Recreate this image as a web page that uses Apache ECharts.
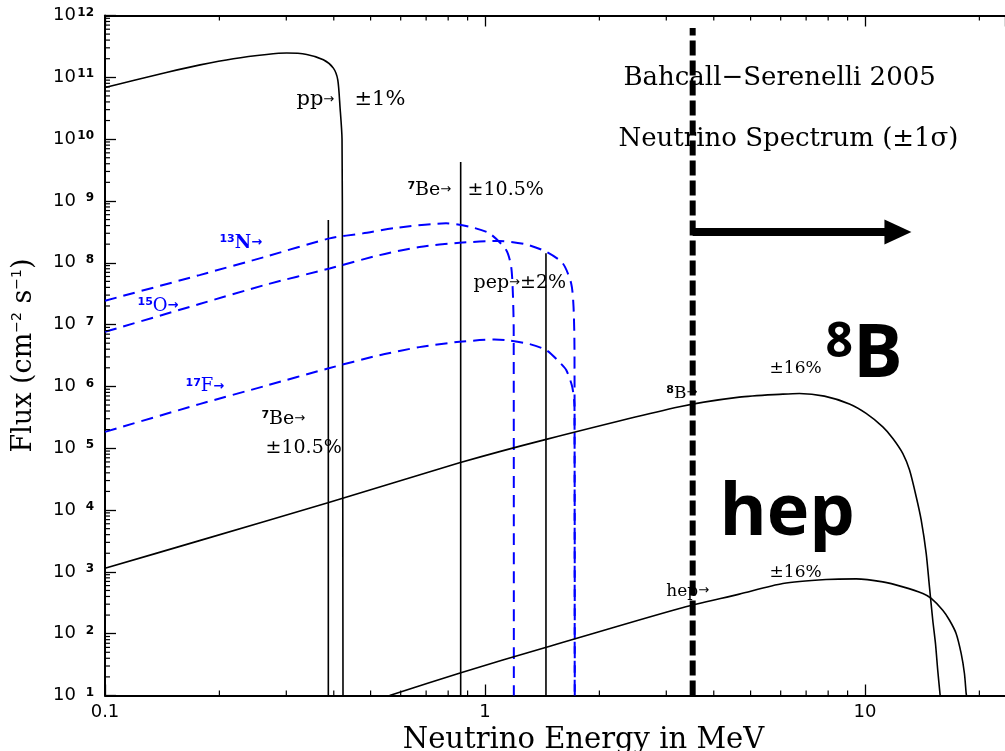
<!DOCTYPE html>
<html><head><meta charset="utf-8">
<script src="https://cdn.jsdelivr.net/npm/echarts@6/dist/echarts.min.js"></script>
<style>html,body{margin:0;padding:0;background:#fff}#c{width:1005px;height:751px}</style>
</head><body><div id="c"></div>
<script>
// ---------------- data ----------------
const X_MIN = 0.1, X_MAX = 23.36, Y_MIN = 10, Y_MAX = 1e12;
const xTickValues = [0.1, 1, 10];
const xTickLabels = ['0.1', '1', '10'];
const yTickExponents = [1,2,3,4,5,6,7,8,9,10,11,12];

// pp spectrum (solid)
const ppE = [0.1, 0.1187, 0.145, 0.178, 0.2177, 0.2664, 0.3008, 0.3396, 0.3755, 0.399, 0.4098, 0.4153, 0.4205, 0.4215, 0.423];
const ppF = [6.84e10, 8.87e10, 1.2e11, 1.59e11, 2.0e11, 2.34e11, 2.47e11, 2.34e11, 1.92e11, 1.41e11, 9.1e10, 3.37e10, 1e10, 1e8, 10];

// line sources: 7Be (384 keV), 7Be (862 keV), pep
const lineE   = [0.387, 0.863, 1.447];
const lineTop = [4.9e8, 4.25e9, 1.43e8];

// 13N (blue dashed)
const n13E = [0.1, 0.1773, 0.263, 0.39, 0.477, 0.584, 0.79, 0.91, 1.027, 1.137, 1.172, 1.184, 1.19, 1.191];
const n13F = [2.43e7, 6.32e7, 1.24e8, 2.48e8, 2.99e8, 3.68e8, 4.34e8, 3.82e8, 2.99e8, 1.61e8, 8.6e7, 3.2e7, 8.1e6, 10];
// 15O (blue dashed)
const o15E = [0.1, 0.1773, 0.263, 0.39, 0.528, 0.672, 0.857, 1.092, 1.27, 1.449, 1.602, 1.686, 1.71, 1.72, 1.722];
const o15F = [7.64e6, 2.15e7, 4.36e7, 8.1e7, 1.33e8, 1.8e8, 2.11e8, 2.25e8, 2.01e8, 1.51e8, 9.8e7, 4.64e7, 1.94e7, 3.9e6, 10];
// 17F (blue dashed)
const f17E = [0.1, 0.1773, 0.263, 0.386, 0.528, 0.672, 0.857, 1.059, 1.137, 1.31, 1.449, 1.57, 1.636, 1.697, 1.72, 1.723];
const f17F = [1.84e5, 5.17e5, 1.01e6, 1.95e6, 3.2e6, 4.32e6, 5.27e6, 5.72e6, 5.6e6, 4.84e6, 3.87e6, 2.47e6, 1.84e6, 9.8e5, 4.68e5, 10];
// 8B (solid)
const b8E = [0.1, 0.1773, 0.386, 0.857, 1.449, 3.25, 4.67, 6.08, 6.72, 7.82, 9.1, 10.07, 11.14, 11.84, 12.58, 13.1, 13.64, 14.06, 14.49, 14.78, 15.08, 15.33, 15.54, 15.77];
const b8F = [1.14e3, 3.2e3, 1.31e4, 5.8e4, 1.39e5, 4.68e5, 6.7e5, 7.5e5, 7.7e5, 6.97e5, 5.2e5, 3.66e5, 2.22e5, 1.44e5, 8.2e4, 4.43e4, 1.64e4, 6.85e3, 1.99e3, 571, 165, 69, 25.6, 10];
// hep (solid)
const hepE = [0.561, 0.86, 1.443, 3.25, 4.67, 6.08, 7.9, 9.48, 11.14, 12.58, 14.2, 14.94, 16.02, 16.69, 17.37, 17.91, 18.27, 18.46, 18.5];
const hepF = [10, 23.2, 59.8, 256, 436, 649, 753, 771, 689, 572, 447, 372, 240, 165, 101, 47.9, 22.7, 10.8, 10];

// detection threshold (thick dashed) and arrow
const thresholdE = 3.52;
const thresholdTop = 6.3e11;
const arrowE = [3.52, 12.21];
const arrowF = 3.14e8;

// text annotations: text, anchor energy, anchor flux
const noteTexts = [
  '{tl|pp}{ar|→}', '{tl|±1%}',
  '{su|7}{t|Be}{ar|→}', '{t|±10.5%}',
  '{bsu|13}{bn|N}{bar|→}', '{bsu|15}{bt|O}{bar|→}', '{bsu|17}{bt|F}{bar|→}',
  '{su|7}{t|Be}{ar|→}', '{t|±10.5%}',
  '{t|pep}{ar|→}{t|±2%}',
  '{su|8}{ts|B}{ar|→}', '{ts|±16%}',
  '{ts|hep}{ar|→}', '{ts|±16%}',
  '{h|Bahcall−Serenelli 2005}', '{h|Neutrino Spectrum (±1σ)}',
  '{b8s|8}{b8|B}', '{big|hep}'
];
const noteE = [0.319, 0.4535, 0.625, 0.9, 0.2, 0.1218, 0.1629, 0.258, 0.2645, 0.933, 3.0, 5.61, 3.0, 5.61, 5.96, 6.29, 7.87, 4.14];
const noteF = [4.3e10, 4.3e10, 1.5e9, 1.5e9, 2.08e8, 1.99e7, 1.01e6, 2.96e5, 1.0e5, 4.7e7, 7.8e5, 1.94e6, 488, 988, 9.75e10, 1.0e10, 3.09e6, 8.6e3];
const noteCentered = [false,false,false,false,false,false,false,false,false,false,false,false,false,false,true,true,false,false];

// ---------------- helpers ----------------
const zip = (a, b) => a.map((v, i) => [v, b[i]]);
function minorTicks(lo, hi) {
  const out = [];
  for (let k = Math.floor(Math.log10(lo)); k <= Math.ceil(Math.log10(hi)); k++) {
    for (let m = 2; m <= 9; m++) {
      const v = m * Math.pow(10, k);
      if (v > lo * 1.0001 && v < hi * 0.9999) out.push(v);
    }
  }
  return out;
}
const xMinor = minorTicks(X_MIN, X_MAX);
const yMinor = minorTicks(Y_MIN, Y_MAX);

const BLUE = '#0000ff';
const SERIF = 'DejaVu Serif';
const SANS = 'DejaVu Sans';

const axisCommon = {
  type: 'log', logBase: 10, interval: 1,
  axisLine: { show: true, lineStyle: { color: '#000', width: 2 } },
  axisTick: { show: true, inside: true, length: 11, lineStyle: { color: '#000', width: 1.3 } },
  splitLine: { show: false },
  minorTick: { show: false }
};

const series = [];
function solid(name, E, F, smooth) {
  series.push({ name, type: 'line', data: zip(E, F), showSymbol: false, symbol: 'none', smooth: smooth || false,
    lineStyle: { color: '#000', width: 1.6 }, z: 3, silent: true, clip: true });
}
function dashed(name, E, F) {
  series.push({ name, type: 'line', data: zip(E, F), showSymbol: false, symbol: 'none', smooth: 0.25,
    lineStyle: { color: BLUE, width: 2, type: [12, 7] }, z: 3, silent: true, clip: true });
}
solid('pp', ppE, ppF, 0.25);
lineE.forEach((e, i) => solid('line' + i, [e, e], [Y_MIN, lineTop[i]]));
dashed('13N', n13E, n13F);
dashed('15O', o15E, o15F);
dashed('17F', f17E, f17F);
solid('8B', b8E, b8F, 0.25);
solid('hep', hepE, hepF, 0.25);

// annotations
series.push({
  name: 'notes', type: 'scatter', symbolSize: 0, silent: true, z: 5,
  itemStyle: { opacity: 1 },
  data: noteTexts.map((t, i) => ({
    value: [noteE[i], noteF[i]],
    label: { show: true, position: [0, 0], formatter: t,
      align: noteCentered[i] ? 'center' : 'left', verticalAlign: 'middle' }
  })),
  label: {
    show: true, color: '#000', opacity: 1,
    rich: {
      t:  { fontFamily: SERIF, fontSize: 19, color: '#000' },
      tl: { fontFamily: SERIF, fontSize: 21, color: '#000' },
      ts: { fontFamily: SERIF, fontSize: 17, color: '#000' },
      ar: { fontFamily: SANS, fontSize: 13, color: '#000' },
      su: { fontFamily: SANS, fontSize: 11, fontWeight: 'bold', color: '#000', verticalAlign: 'top' },
      bsu: { fontFamily: SANS, fontSize: 11, fontWeight: 'bold', color: BLUE, verticalAlign: 'top' },
      bn: { fontFamily: SERIF, fontSize: 18, fontWeight: 'bold', color: BLUE },
      bt: { fontFamily: SERIF, fontSize: 18, color: BLUE },
      bar: { fontFamily: SANS, fontSize: 13, fontWeight: 'bold', color: BLUE },
      h:  { fontFamily: SERIF, fontSize: 26, color: '#000' },
      b8s: { fontFamily: 'Open Sans', fontSize: 48, fontWeight: 'bold', color: '#000', verticalAlign: 'top' },
      b8:  { fontFamily: 'Open Sans', fontSize: 74, fontWeight: 'bold', color: '#000' },
      big: { fontFamily: 'Open Sans', fontSize: 72, fontWeight: 'bold', color: '#000' }
    }
  }
});

// threshold dashed line (drawn on top of text)
series.push({ name: 'threshold', type: 'line', data: [[thresholdE, Y_MIN], [thresholdE, thresholdTop]],
  showSymbol: false, symbol: 'none', lineStyle: { color: '#000', width: 6, type: [15, 5] }, z: 8, silent: true });
// arrow
series.push({ name: 'arrow', type: 'line', silent: true, z: 8,
  data: [
    { value: [arrowE[0], arrowF], symbol: 'none' },
    { value: [arrowE[1], arrowF], symbol: 'triangle', symbolSize: [25, 27], symbolRotate: -90, itemStyle: { color: '#000' } }
  ],
  showSymbol: true, lineStyle: { color: '#000', width: 8 } });

// minor ticks (log 2..9 per decade)
series.push({ name: 'xminor', type: 'custom', silent: true, z: 9, clip: false,
  data: xMinor.map(v => [v, Y_MIN]),
  renderItem: (params, api) => {
    const b = api.coord([api.value(0), Y_MIN]);
    const t = api.coord([api.value(0), Y_MAX]);
    const st = { stroke: '#000', lineWidth: 1.2 };
    return { type: 'group', children: [
      { type: 'line', shape: { x1: b[0], y1: b[1], x2: b[0], y2: b[1] - 5 }, style: st },
      { type: 'line', shape: { x1: t[0], y1: t[1], x2: t[0], y2: t[1] + 5 }, style: st }
    ] };
  } });
series.push({ name: 'yminor', type: 'custom', silent: true, z: 9, clip: false,
  data: yMinor.map(v => [X_MIN, v]),
  renderItem: (params, api) => {
    const p = api.coord([X_MIN, api.value(1)]);
    return { type: 'line', shape: { x1: p[0], y1: p[1], x2: p[0] + 5, y2: p[1] }, style: { stroke: '#000', lineWidth: 1.2 } };
  } });

const chart = echarts.init(document.getElementById('c'), null, { renderer: 'canvas' });
chart.setOption({
  animation: false,
  backgroundColor: '#fff',
  grid: { left: 105, right: 0, top: 15.5, bottom: 55.5, containLabel: false, outerBoundsMode: 'none' },
  xAxis: [
    Object.assign({}, axisCommon, {
      min: X_MIN, max: X_MAX, position: 'bottom',
      axisLabel: { show: true, color: '#000', fontFamily: SANS, fontSize: 18, margin: 8,
        showMaxLabel: false,
        formatter: v => { const i = xTickValues.findIndex(t => Math.abs(Math.log10(v) - Math.log10(t)) < 1e-6); return i >= 0 ? xTickLabels[i] : ''; } },
      name: 'Neutrino Energy in MeV', nameLocation: 'middle', nameGap: 27,
      nameTextStyle: { fontFamily: SERIF, fontSize: 29, color: '#000', padding: [0, 0, 0, 57] }
    }),
    Object.assign({}, axisCommon, {
      min: X_MIN, max: X_MAX, position: 'top', axisLabel: { show: false }
    })
  ],
  yAxis: Object.assign({}, axisCommon, {
    min: Y_MIN, max: Y_MAX, position: 'left',
    axisLabel: { show: true, margin: 11, color: '#000',
      formatter: v => { const e = Math.round(Math.log10(v)); return yTickExponents.indexOf(e) >= 0 ? '{b|10}{s|' + e + '}' : ''; },
      rich: {
        b: { fontFamily: SANS, fontSize: 18, color: '#000' },
        s: { fontFamily: SANS, fontSize: 12, fontWeight: 'bold', color: '#000', width: 18, align: 'right', verticalAlign: 'top' }
      } },
    name: '{n|Flux (cm}{s|−2}{n| s}{s|−1}{n|)}', nameLocation: 'middle', nameGap: 68, nameRotate: 90,
    nameTextStyle: { color: '#000',
      rich: {
        n: { fontFamily: SERIF, fontSize: 27, color: '#000' },
        s: { fontFamily: SANS, fontSize: 14, color: '#000', verticalAlign: 'top' }
      } }
  }),
  series
});
</script></body></html>
